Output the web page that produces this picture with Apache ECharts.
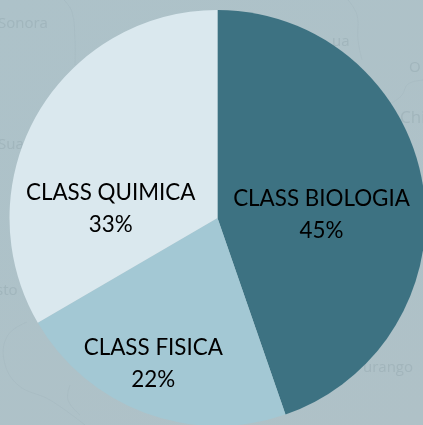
<!DOCTYPE html>
<html><head><meta charset="utf-8">
<style>html,body{margin:0;padding:0;background:#adc1c8}#c{width:423px;height:425px}</style>
<script src="https://cdn.jsdelivr.net/npm/echarts@6/dist/echarts.min.js"></script>
</head><body><div id="c"></div>
<script>
const categories = ['CLASS BIOLOGIA', 'CLASS FISICA', 'CLASS QUIMICA'];
const values = [44.7, 21.9, 33.4];
const colors = ['#3d7282', '#a3c8d4', '#dae8ee'];
const labelOffsets = [[-1.5, 15], [-27, 45], [-14, 44]];
const mapNames = [['Sonora', -2, 24, 15], ['ua', 332, 42, 15], ['O', 409, 68, 15], ['Chi', 400, 118, 17], ['Sua', -2, 145, 15], ['sto', -4, 291, 15], ['urango', 363, 368, 15]];
const mapLines = [
  [[64, 0], [72, 12], [75, 40], [75, 65]],
  [[348, 0], [357, 15], [358, 40], [362, 60]],
  [[423, 80], [408, 84], [402, 95], [392, 103]],
  [[27, 322], [8, 335], [4, 360], [18, 385], [50, 400], [85, 425]],
  [[70, 385], [68, 400], [80, 415]]
];

const decor = [
  ...mapNames.map(([t, x, y, s]) => ({
    type: 'text', x, y, z: -1, silent: true,
    style: {text: t, fill: 'rgba(130,150,158,0.28)', font: s + 'px "Open Sans"', textVerticalAlign: 'middle'}
  })),
  ...mapLines.map(points => ({
    type: 'polyline', z: -1, silent: true,
    shape: {points, smooth: 0.4},
    style: {stroke: 'rgba(130,150,158,0.1)', lineWidth: 1, fill: null}
  }))
];

const chart = echarts.init(document.getElementById('c'), null, {renderer: 'canvas'});
chart.setOption({
  animation: false,
  backgroundColor: {
    type: 'linear', x: 0, y: 0, x2: 1, y2: 1,
    colorStops: [{offset: 0, color: '#adc2c9'}, {offset: 1, color: '#afc1c7'}]
  },
  graphic: decor,
  series: [{
    type: 'pie',
    center: [217.5, 218],
    radius: [0, 208],
    startAngle: 90,
    clockwise: true,
    percentPrecision: 0,
    avoidLabelOverlap: false,
    labelLine: {show: false},
    itemStyle: {borderWidth: 0},
    data: categories.map((name, i) => ({
      name, value: values[i],
      itemStyle: {color: colors[i]},
      label: {
        show: true, position: 'inside', formatter: '{b}\n{d}%',
        color: '#000', fontFamily: 'Lato, Carlito, sans-serif', fontSize: 22.4,
        lineHeight: 32, align: 'center', verticalAlign: 'middle',
        offset: labelOffsets[i]
      }
    }))
  }]
});
</script></body></html>
